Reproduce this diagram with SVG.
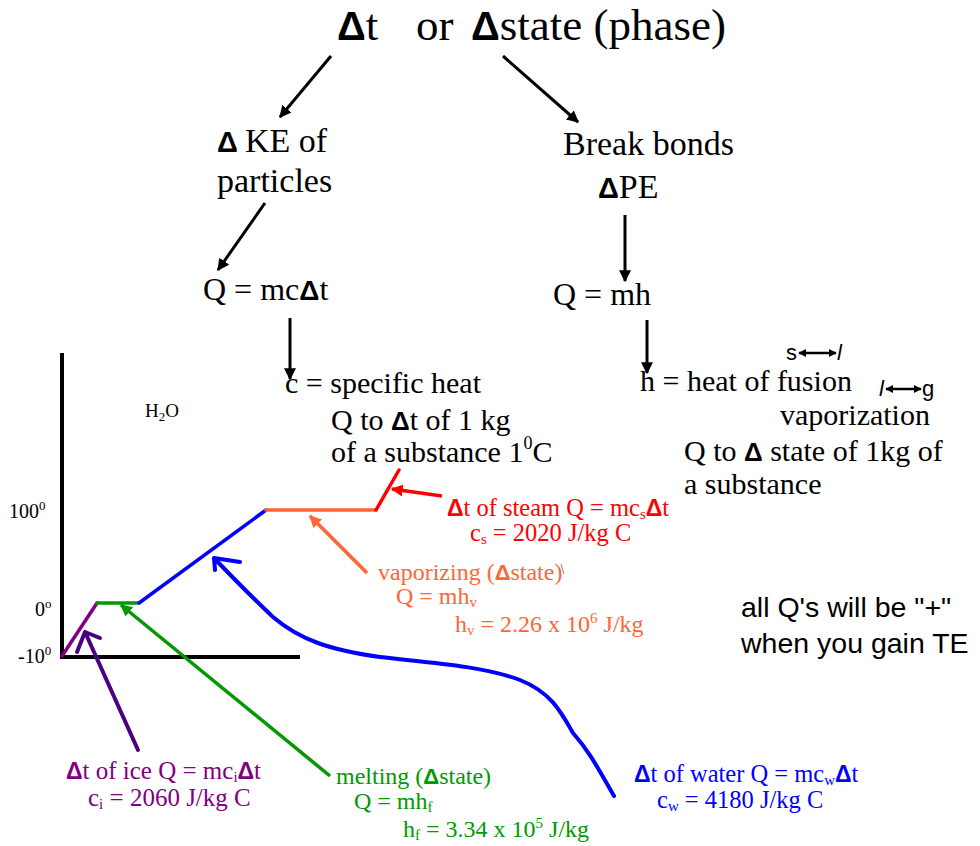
<svg xmlns="http://www.w3.org/2000/svg" width="980" height="846" viewBox="0 0 980 846">
<style>
.t{font-family:"Liberation Serif","Times New Roman",serif;fill:#000}
.d{font-family:"Liberation Sans",Arial,sans-serif;font-weight:bold}
.a{font-family:"Liberation Sans",Arial,sans-serif;fill:#000}
.k{stroke:#000;stroke-width:3;fill:none}
.ax{stroke:#000;stroke-width:4;fill:none}
.seg{stroke-width:3.5;fill:none;stroke-linecap:round}
</style>
<defs>
<marker id="ah" viewBox="0 0 10 10" refX="9" refY="5" markerWidth="12" markerHeight="12" markerUnits="userSpaceOnUse" orient="auto"><path d="M0,0L10,5L0,10z" fill="#000"/></marker>
<marker id="ahs" viewBox="0 0 10 10" refX="9" refY="5" markerWidth="8" markerHeight="8" markerUnits="userSpaceOnUse" orient="auto-start-reverse"><path d="M0,0L10,5L0,10z" fill="#000"/></marker>
<marker id="ar" viewBox="0 0 10 10" refX="9" refY="5" markerWidth="12" markerHeight="12" markerUnits="userSpaceOnUse" orient="auto"><path d="M0,0L10,5L0,10z" fill="#FF0000"/></marker>
<marker id="ao" viewBox="0 0 10 10" refX="9" refY="5" markerWidth="12" markerHeight="12" markerUnits="userSpaceOnUse" orient="auto"><path d="M0,0L10,5L0,10z" fill="#FF6633"/></marker>
<marker id="ag" viewBox="0 0 10 10" refX="9" refY="5" markerWidth="12" markerHeight="12" markerUnits="userSpaceOnUse" orient="auto"><path d="M0,0L10,5L0,10z" fill="#009900"/></marker>
</defs>
<rect width="980" height="846" fill="#fff"/>

<g id="title"><text class="t" font-size="45" y="40"><tspan x="337" class="d" font-size="40">Δ</tspan><tspan>t</tspan><tspan x="416">or</tspan><tspan x="471" class="d" font-size="40">Δ</tspan><tspan>state (phase)</tspan></text></g>
<g id="ke"><text class="t" font-size="34" y="152"><tspan x="217" class="d" font-size="29">Δ</tspan><tspan x="245">KE of</tspan></text><text class="t" font-size="34" x="217" y="192">particles</text></g>
<g id="bonds"><text class="t" font-size="34" x="563" y="155">Break bonds</text><text class="t" font-size="34" y="198"><tspan x="598" class="d" font-size="29">Δ</tspan><tspan>PE</tspan></text></g>
<g id="qmc"><text class="t" font-size="32" x="203" y="300">Q = mc<tspan class="d" font-size="28">Δ</tspan>t</text></g>
<g id="qmh"><text class="t" font-size="32" x="553" y="305">Q = mh</text></g>
<g id="spec"><text class="t" font-size="30" x="285" y="393">c = specific heat</text><text class="t" font-size="30" x="331" y="430">Q to <tspan class="d" font-size="26">Δ</tspan>t of 1 kg</text><text class="t" font-size="30" x="331" y="462">of a substance 1<tspan font-size="18" dy="-13">0</tspan><tspan dy="13">C</tspan></text></g>
<g id="heat"><text class="t" font-size="30" x="640" y="391">h = heat of fusion</text><text class="t" font-size="30" x="780" y="425">vaporization</text><text class="t" font-size="30" x="684" y="461">Q to <tspan class="d" font-size="26">Δ</tspan> state of 1kg of</text><text class="t" font-size="30" x="684" y="494">a substance</text>
<text class="a" font-size="22" x="786" y="360">s</text><text class="a" font-size="22" font-style="italic" x="837" y="360">l</text>
<text class="a" font-size="22" font-style="italic" x="879" y="396">l</text><text class="a" font-size="22" x="922" y="396">g</text></g>
<g id="note"><text class="a" font-size="28.5" x="741" y="617">all Q's will be "+"</text><text class="a" font-size="28.5" x="741" y="653">when you gain TE</text></g>

<g id="graph">
<line class="ax" x1="62" y1="353" x2="62" y2="659"/>
<line class="ax" x1="62" y1="657" x2="300" y2="657"/>
<text class="t" font-size="19" x="145" y="417">H<tspan font-size="13" dy="4">2</tspan><tspan dy="-4">O</tspan></text>
<text class="t" font-size="20" x="9" y="518">100<tspan font-size="13" dy="-8">0</tspan></text>
<text class="t" font-size="20" x="35" y="616">0<tspan font-size="13" dy="-8">o</tspan></text>
<text class="t" font-size="20" x="18" y="663">-10<tspan font-size="13" dy="-8">0</tspan></text>
<line class="seg" stroke="#800080" x1="62" y1="656" x2="97" y2="603"/>
<line class="seg" stroke="#009900" x1="97" y1="603" x2="139" y2="603"/>
<line class="seg" stroke="#0000FF" x1="139" y1="603" x2="266" y2="510"/>
<line class="seg" stroke="#FF6633" x1="266" y1="510" x2="376" y2="510"/>
<line class="seg" stroke="#FF0000" x1="376" y1="510" x2="399" y2="470"/>
</g>

<g id="connectors">
<line class="k" x1="331" y1="56" x2="280" y2="117" marker-end="url(#ah)"/>
<line class="k" x1="503" y1="56" x2="578" y2="122" marker-end="url(#ah)"/>
<line class="k" x1="265" y1="203" x2="218" y2="270" marker-end="url(#ah)"/>
<line class="k" x1="625" y1="215" x2="625" y2="281" marker-end="url(#ah)"/>
<line class="k" x1="290" y1="318" x2="290" y2="379" marker-end="url(#ah)"/>
<line class="k" x1="647" y1="320" x2="647" y2="373" marker-end="url(#ah)"/>
<line stroke="#000" stroke-width="2.5" x1="799" y1="353" x2="836" y2="353" marker-start="url(#ahs)" marker-end="url(#ahs)"/>
<line stroke="#000" stroke-width="2.5" x1="886" y1="389" x2="921" y2="389" marker-start="url(#ahs)" marker-end="url(#ahs)"/>
<line stroke="#FF0000" stroke-width="3.5" x1="442" y1="496" x2="392" y2="489" marker-end="url(#ar)"/>
<line stroke="#FF6633" stroke-width="3.5" x1="367" y1="573" x2="310" y2="516" marker-end="url(#ao)"/>
<line stroke="#009900" stroke-width="3.5" x1="330" y1="776" x2="121" y2="605" marker-end="url(#ag)"/>
<path d="M138,750 L85,632 M77,652 L85,632 L100,638" stroke="#4B0082" stroke-width="4" fill="none" stroke-linecap="round" stroke-linejoin="round"/>
<path d="M614,796 C600,772 590,752 573,733 C560,710 550,692 520,680 C480,665 420,662 380,657 C330,650 300,640 273,617 C255,600 235,580 214,558 M215,570 L214,558 L240,562" stroke="#0000FF" stroke-width="4" fill="none" stroke-linecap="round" stroke-linejoin="round"/>
<line stroke="#888" stroke-width="1" x1="561" y1="564" x2="564" y2="574"/>
</g>

<g id="steam"><text class="t" font-size="24.5" style="fill:#FF0000" x="447" y="516"><tspan class="d" font-size="23">Δ</tspan>t of steam Q = mc<tspan font-size="15" dy="3">s</tspan><tspan class="d" font-size="23" dy="-3">Δ</tspan>t</text><text class="t" font-size="24.5" style="fill:#FF0000" x="470" y="541">c<tspan font-size="15" dy="3">s</tspan><tspan dy="-3"> = 2020 J/kg C</tspan></text></g>
<g id="vapor"><text class="t" font-size="24" style="fill:#FF6633" x="378" y="580">vaporizing (<tspan class="d" font-size="22">Δ</tspan>state)</text><text class="t" font-size="24" style="fill:#FF6633" x="396" y="604">Q = mh<tspan font-size="15" dy="3">v</tspan></text><text class="t" font-size="24" style="fill:#FF6633" x="455" y="632">h<tspan font-size="15" dy="3">v</tspan><tspan dy="-3"> = 2.26 x 10</tspan><tspan font-size="15" dy="-9">6</tspan><tspan dy="9"> J/kg</tspan></text></g>
<g id="ice"><text class="t" font-size="25" style="fill:#800080" x="66" y="779"><tspan class="d" font-size="23">Δ</tspan>t of ice Q = mc<tspan font-size="15" dy="3">i</tspan><tspan class="d" font-size="23" dy="-3">Δ</tspan>t</text><text class="t" font-size="25" style="fill:#800080" x="88" y="806">c<tspan font-size="15" dy="3">i</tspan><tspan dy="-3"> = 2060 J/kg C</tspan></text></g>
<g id="melt"><text class="t" font-size="24" style="fill:#009900" x="336" y="784">melting (<tspan class="d" font-size="22">Δ</tspan>state)</text><text class="t" font-size="24" style="fill:#009900" x="354" y="809">Q = mh<tspan font-size="15" dy="3">f</tspan></text><text class="t" font-size="24" style="fill:#009900" x="403" y="837">h<tspan font-size="15" dy="3">f</tspan><tspan dy="-3"> = 3.34 x 10</tspan><tspan font-size="15" dy="-9">5</tspan><tspan dy="9"> J/kg</tspan></text></g>
<g id="water"><text class="t" font-size="24.5" style="fill:#0000FF" x="634" y="782"><tspan class="d" font-size="23">Δ</tspan>t of water Q = mc<tspan font-size="15" dy="3">w</tspan><tspan class="d" font-size="23" dy="-3">Δ</tspan>t</text><text class="t" font-size="24.5" style="fill:#0000FF" x="657" y="808">c<tspan font-size="15" dy="3">w</tspan><tspan dy="-3"> = 4180 J/kg C</tspan></text></g>
</svg>
